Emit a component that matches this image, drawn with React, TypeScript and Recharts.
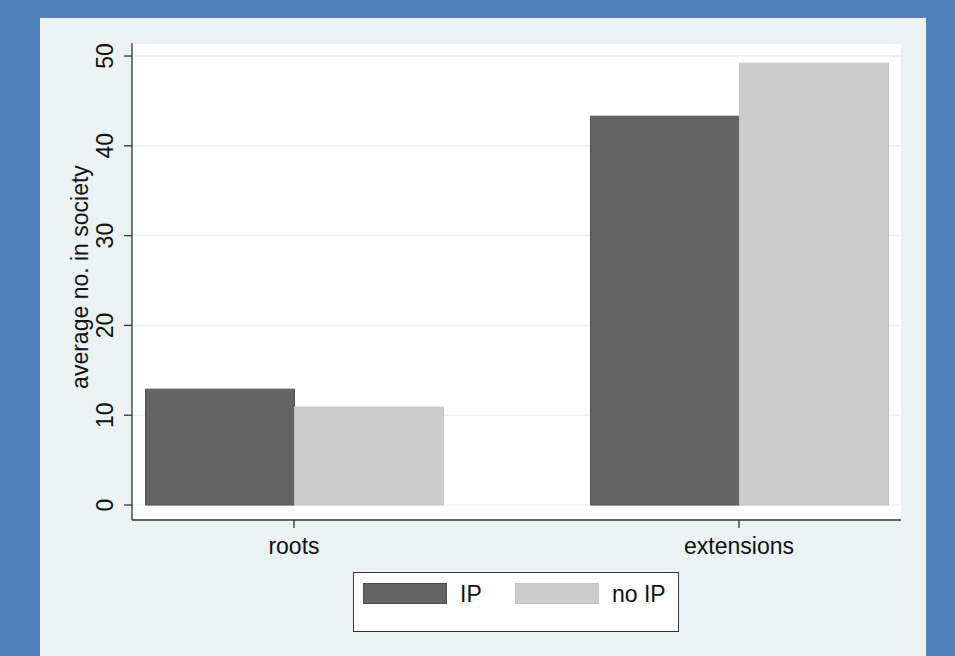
import React from "react";
import { BarChart, Bar, XAxis, YAxis, CartesianGrid, Legend } from "recharts";

const categories = ["roots", "extensions"];
const ipValues = [12.9, 43.3];
const noIpValues = [10.9, 49.2];
const yTicks = [0, 10, 20, 30, 40, 50];

const series = [
  { key: "ip", name: "IP", fill: "#646464", stroke: "#4e4e4e" },
  { key: "noIp", name: "no IP", fill: "#cccccc", stroke: "#c2c2c2" },
];

const data = categories.map((c, i) => ({ cat: c, ip: ipValues[i], noIp: noIpValues[i] }));

const FONT = "'Liberation Sans', Arial, sans-serif";
const TEXT = "#111";

function YTick(props: any) {
  const { x, y, payload } = props;
  const tx = x - 9;
  return (
    <text x={tx} y={y} transform={`rotate(-90 ${tx} ${y})`} textAnchor="middle" fontSize={23} fontFamily={FONT} fill={TEXT}>
      {payload.value}
    </text>
  );
}

function XTick(props: any) {
  const { x, y, payload } = props;
  return (
    <text x={x} y={y + 24} textAnchor="middle" fontSize={23} fontFamily={FONT} fill={TEXT}>
      {payload.value}
    </text>
  );
}

function LegendBox() {
  return (
    <div style={{ position: "relative", width: 326, height: 60, boxSizing: "border-box", border: "1px solid #333", background: "#fff", fontFamily: FONT, fontSize: 23, color: TEXT }}>
      {series.map((s, i) => (
        <React.Fragment key={s.key}>
          <div style={{ position: "absolute", left: 9 + i * 152, top: 10, width: 84, height: 21, boxSizing: "border-box", background: s.fill, border: `1px solid ${s.stroke}` }} />
          <div style={{ position: "absolute", left: 106 + i * 152, top: 6, lineHeight: "30px", whiteSpace: "nowrap" }}>{s.name}</div>
        </React.Fragment>
      ))}
    </div>
  );
}

export default function App() {
  return (
    <div style={{ position: "fixed", left: 0, top: 0, width: 955, height: 656, background: "#4f81bd", overflow: "hidden" }}>
      <div style={{ position: "absolute", left: 40, top: 18, width: 886, height: 640, background: "#eaf2f3" }} />
      <div style={{ position: "absolute", left: 0, top: 0 }}>
        <BarChart
          width={955}
          height={656}
          data={data}
          margin={{ top: 43, right: 54, bottom: 96, left: 0 }}
          barCategoryGap={74}
          barGap={0}
        >
          <CartesianGrid vertical={false} fill="#ffffff" stroke="#eaf2f3" strokeWidth={1.5} />
          <XAxis
            dataKey="cat"
            padding={{ left: -60.5, right: -60.5 }}
            axisLine={{ stroke: "#333", strokeWidth: 1.3 }}
            tickLine={{ stroke: "#333", strokeWidth: 1.3 }}
            tickSize={8}
            tick={<XTick />}
            height={40}
            interval={0}
          />
          <YAxis
            width={132}
            domain={[-1.67, 51.45]}
            allowDataOverflow
            ticks={yTicks}
            axisLine={{ stroke: "#333", strokeWidth: 1.3 }}
            tickLine={{ stroke: "#333", strokeWidth: 1.3 }}
            tickSize={8}
            tick={<YTick />}
            label={{
              value: "average no. in society",
              angle: -90,
              position: "insideLeft",
              content: () => (
                <text x={88} y={277} transform="rotate(-90 88 277)" textAnchor="middle" fontSize={23} fontFamily={FONT} fill={TEXT}>
                  average no. in society
                </text>
              ),
            }}
          />
          {series.map((s) => (
            <Bar key={s.key} dataKey={s.key} name={s.name} fill={s.fill} stroke={s.stroke} strokeWidth={1} isAnimationActive={false} />
          ))}
          <Legend
            layout="horizontal"
            verticalAlign="middle"
            align="center"
            content={() => <LegendBox />}
            wrapperStyle={{ left: 353, top: 572, width: 326, height: 60 }}
          />
        </BarChart>
      </div>
    </div>
  );
}
